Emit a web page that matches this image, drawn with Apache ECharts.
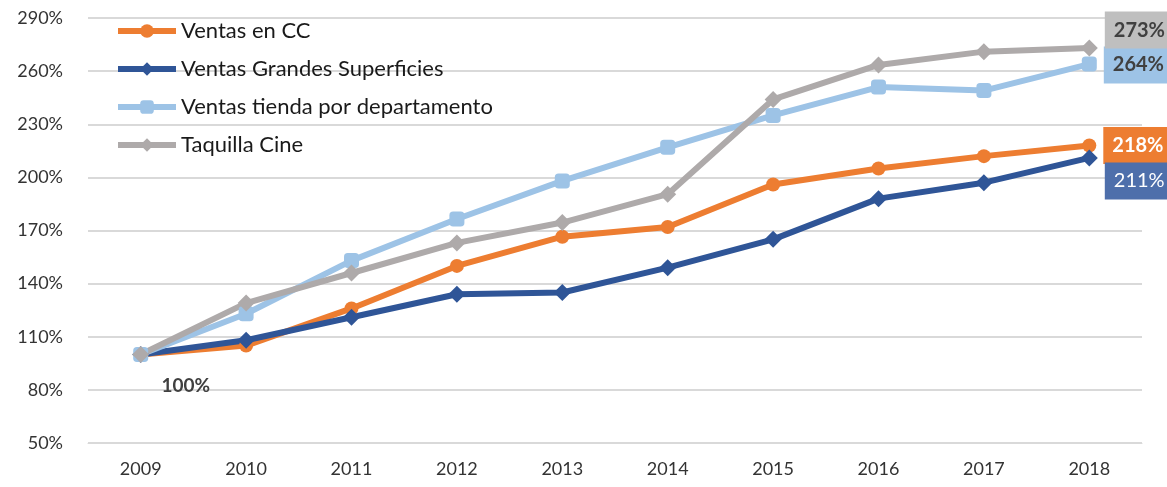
<!DOCTYPE html>
<html>
<head>
<meta charset="utf-8">
<script src="https://cdn.jsdelivr.net/npm/echarts@6/dist/echarts.min.js"></script>
<style>
  html, body { margin: 0; padding: 0; background: #fff; }
  #chart { width: 1167px; height: 487px; }
</style>
</head>
<body>
<div id="chart"></div>
<script>
var years = ['2009', '2010', '2011', '2012', '2013', '2014', '2015', '2016', '2017', '2018'];
var ventasCC = [100, 105, 126, 150, 166.5, 172, 196, 205, 212, 218];
var grandesSup = [100, 108, 121, 134, 135, 149, 165, 188, 197, 211];
var tiendaDepto = [100, 123, 153, 176.5, 198, 217, 235, 251, 249, 264];
var taquillaCine = [100, 129, 146, 163, 174.5, 190.5, 244, 263.5, 271, 273];

var font = 'Lato, "Open Sans", sans-serif';

// etiqueta de caja al final de cada serie
function endLabel(bg, fg, bold, dy) {
    return {
        show: true,
        position: 'right',
        distance: 7,
        offset: [0, dy],
        formatter: function (p) { return Math.round(p.value) + '%'; },
        backgroundColor: bg,
        color: fg,
        fontFamily: font,
        fontSize: 20,
        fontWeight: bold ? 'bold' : 'normal',
        padding: [9, 10, 8, 9]
    };
}

function withEnd(arr, label) {
    return arr.map(function (v, i) {
        if (i === arr.length - 1) return { value: v, label: label };
        return v;
    });
}

var cineData = withEnd(taquillaCine, endLabel('#BFBFBF', '#404040', true, -18));
cineData[0] = {
    value: taquillaCine[0],
    label: {
        show: true, position: 'inside', offset: [45, 31],
        formatter: '100%', color: '#404040', fontFamily: font,
        fontSize: 19, fontWeight: 'bold'
    }
};

var myChart = echarts.init(document.getElementById('chart'));

var option = {
    animation: false,
    textStyle: { fontFamily: font },
    grid: { left: 88, right: 25, top: 18, bottom: 44 },
    legend: {
        orient: 'vertical',
        left: 110,
        top: 15,
        itemGap: 16,
        itemWidth: 58,
        itemHeight: 17,
        lineStyle: { width: 6 },
        textStyle: { fontSize: 22, color: '#1a1a1a', fontFamily: font },
        data: ['Ventas en CC', 'Ventas Grandes Superficies', 'Ventas tienda por departamento', 'Taquilla Cine']
    },
    xAxis: {
        type: 'category',
        data: years,
        axisLine: { lineStyle: { color: '#d9d9d9', width: 1 } },
        axisTick: { show: false },
        axisLabel: { color: '#333', fontSize: 18, margin: 17, fontFamily: font }
    },
    yAxis: {
        type: 'value',
        min: 50,
        max: 290,
        interval: 30,
        axisLine: { show: false },
        axisTick: { show: false },
        splitLine: { lineStyle: { color: '#d9d9d9', width: 2 } },
        axisLabel: { color: '#333', fontSize: 18, margin: 25, fontFamily: font, formatter: '{value}%' }
    },
    series: [
        {
            name: 'Ventas en CC',
            type: 'line',
            data: withEnd(ventasCC, endLabel('#ED7D31', '#ffffff', true, 0)),
            symbol: 'circle',
            symbolSize: 14,
            lineStyle: { width: 6, color: '#ED7D31' },
            itemStyle: { color: '#ED7D31' }
        },
        {
            name: 'Ventas Grandes Superficies',
            type: 'line',
            data: withEnd(grandesSup, endLabel('#4E6FAB', '#ffffff', false, 23)),
            symbol: 'diamond',
            symbolSize: 17,
            lineStyle: { width: 6, color: '#2F5597' },
            itemStyle: { color: '#2F5597' }
        },
        {
            name: 'Ventas tienda por departamento',
            type: 'line',
            data: withEnd(tiendaDepto, endLabel('#9DC3E6', '#404040', true, 1)),
            symbol: 'roundRect',
            symbolSize: 15,
            lineStyle: { width: 6, color: '#9DC3E6' },
            itemStyle: { color: '#9DC3E6' }
        },
        {
            name: 'Taquilla Cine',
            type: 'line',
            data: cineData,
            symbol: 'diamond',
            symbolSize: 17,
            lineStyle: { width: 6, color: '#AEAAAA' },
            itemStyle: { color: '#AEAAAA' }
        }
    ]
};

myChart.setOption(option);
</script>
</body>
</html>
